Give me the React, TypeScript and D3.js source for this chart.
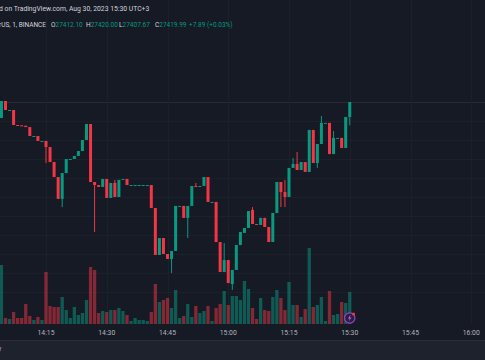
import React from "react";
import * as d3 from "d3";

// 1 minute candles
const times = [
  "14:04","14:05","14:06","14:07","14:08","14:09","14:10","14:11","14:12","14:13","14:14","14:15",
  "14:16","14:17","14:18","14:19","14:20","14:21","14:22","14:23","14:24","14:25","14:26","14:27",
  "14:28","14:29","14:30","14:31","14:32","14:33","14:34","14:35","14:36","14:37","14:38","14:39",
  "14:40","14:41","14:42","14:43","14:44","14:45","14:46","14:47","14:48","14:49","14:50","14:51",
  "14:52","14:53","14:54","14:55","14:56","14:57","14:58","14:59","15:00","15:01","15:02","15:03",
  "15:04","15:05","15:06","15:07","15:08","15:09","15:10","15:11","15:12","15:13","15:14","15:15",
  "15:16","15:17","15:18","15:19","15:20","15:21","15:22","15:23","15:24","15:25","15:26","15:27",
  "15:28","15:29","15:30",
];
const opens = [
  27411.6,27420.5,27415.8,27415.8,27407.9,27407.7,27407.5,27406.8,27402.1,27402.1,27399.5,27399.5,
  27396.3,27388.4,27380.5,27369.0,27382.6,27390.0,27390.0,27391.6,27394.2,27400.0,27408.4,27377.9,
  27376.3,27375.3,27379.5,27369.5,27377.4,27370.0,27379.5,27379.5,27376.3,27376.3,27376.3,27376.3,
  27376.3,27376.3,27364.2,27339.5,27348.4,27340.0,27337.4,27341.6,27365.3,27365.3,27359.0,27365.3,
  27375.8,27375.3,27375.8,27380.5,27367.4,27367.4,27346.3,27330.5,27336.8,27324.2,27331.6,27344.7,
  27351.1,27353.7,27363.2,27355.8,27355.3,27359.0,27354.2,27346.3,27361.6,27377.9,27372.6,27370.0,
  27385.3,27387.4,27384.2,27388.4,27383.2,27405.3,27387.9,27397.9,27409.0,27409.0,27392.6,27401.1,
  27401.1,27395.8,27412.10,
];
const highs = [
  27420.5,27420.5,27415.8,27415.8,27407.9,27407.7,27407.5,27406.8,27402.1,27402.1,27399.5,27399.5,
  27396.3,27388.4,27380.5,27382.6,27390.0,27390.0,27391.6,27394.2,27400.0,27408.4,27408.4,27377.9,
  27376.3,27379.5,27379.5,27377.4,27379.0,27379.0,27379.5,27379.5,27376.3,27376.3,27376.3,27376.3,
  27376.3,27376.3,27364.2,27348.4,27348.4,27340.0,27341.6,27365.3,27365.3,27365.3,27365.3,27375.8,
  27377.4,27375.8,27380.5,27380.5,27367.4,27367.4,27346.3,27345.8,27336.8,27331.6,27344.7,27351.6,
  27353.7,27362.6,27364.7,27355.8,27359.0,27359.0,27354.2,27361.6,27377.9,27377.9,27379.0,27385.3,
  27390.5,27393.7,27388.4,27388.4,27405.3,27405.3,27397.9,27412.6,27409.0,27409.0,27404.7,27401.1,
  27401.1,27412.1,27420.00,
];
const lows = [
  27411.6,27415.8,27415.8,27407.9,27407.7,27407.5,27406.8,27402.1,27402.1,27399.5,27399.5,27387.9,
  27388.4,27380.5,27369.0,27364.7,27382.6,27390.0,27390.0,27391.6,27394.2,27400.0,27377.9,27351.6,
  27375.3,27375.3,27369.5,27369.5,27370.0,27370.0,27379.5,27376.3,27376.3,27376.3,27376.3,27376.3,
  27376.3,27364.2,27339.5,27339.5,27340.0,27337.4,27330.0,27341.6,27365.3,27359.0,27348.4,27365.3,
  27375.3,27375.3,27375.8,27367.4,27367.4,27346.3,27330.5,27330.5,27324.7,27321.1,27331.6,27344.7,
  27351.1,27353.7,27355.8,27355.6,27355.3,27354.2,27346.3,27346.3,27361.6,27364.7,27364.7,27370.0,
  27385.3,27384.2,27384.2,27383.2,27383.2,27387.9,27385.3,27397.9,27409.0,27392.6,27392.6,27401.1,
  27395.8,27395.8,27407.67,
];
const closes = [
  27420.5,27415.8,27415.8,27407.9,27407.7,27407.5,27406.8,27402.1,27402.1,27399.5,27399.5,27396.3,
  27388.4,27380.5,27369.0,27382.6,27390.0,27390.0,27391.6,27394.2,27400.0,27408.4,27377.9,27376.3,
  27375.3,27379.5,27369.5,27377.4,27370.0,27379.0,27379.5,27376.3,27376.3,27376.3,27376.3,27376.3,
  27376.3,27364.2,27339.5,27348.4,27340.0,27337.4,27341.6,27365.3,27365.3,27359.0,27365.3,27375.8,
  27375.3,27375.8,27380.5,27367.4,27367.4,27346.3,27330.5,27336.8,27324.7,27331.6,27344.7,27351.6,
  27353.7,27362.6,27355.8,27355.6,27359.0,27354.2,27346.3,27361.6,27377.9,27372.6,27370.0,27385.3,
  27387.4,27384.2,27388.4,27383.2,27405.3,27387.9,27397.9,27409.0,27409.0,27392.6,27401.1,27401.1,
  27395.8,27412.1,27419.99,
];
const volumes = [
  29.5,3,2.5,6,3,3,10,4,2,3.5,2,26,
  9,8.5,8.5,13.5,7,3,8.5,4.5,5.5,12,28.5,27,
  5.5,6.5,6,7,7,8,6.5,4.5,1.5,3,2,2,
  1.5,6,20,11,12,13,8,17,3,4,10,3.5,
  9,5.5,6.5,9,1.5,8,10,16.5,9.5,14,14,12,
  21.5,17.5,8,2.5,13,7,6.5,13.5,17,13,7,21,
  9.5,9.5,3.5,7.5,38,8.5,9.5,13.5,1.5,16.5,4.5,5,
  11,10.5,16,
];

const timeTicks = ["14:15", "14:30", "14:45", "15:00", "15:15", "15:30", "15:45", "16:00"];
const priceGrid = [27420, 27410, 27400, 27390, 27380, 27370, 27360, 27350, 27340, 27330, 27320];

const W = 485;
const H = 360;
const UP = "#089981";
const DOWN = "#f23645";
const UP_VOL = "rgba(8,153,129,0.5)";
const DOWN_VOL = "rgba(242,54,69,0.5)";
const FONT = "Roboto, 'Noto Sans', sans-serif";

const toDate = (s: string) => {
  const [h, m] = s.split(":").map(Number);
  return new Date(2023, 7, 30, h, m);
};

function App() {
  const x = d3
    .scaleTime()
    .domain([toDate("14:15"), toDate("15:30")])
    .range([46, 349.75]);
  const y = d3.scaleLinear().domain([27320, 27420]).range([292, 102]);
  const v = d3.scaleLinear().domain([0, 38]).range([324, 248]);

  const candles = times.map((t, i) => ({
    t,
    o: opens[i],
    h: highs[i],
    l: lows[i],
    c: closes[i],
    vol: volumes[i],
  }));

  const bodyW = 3;
  const volW = 3.3;

  return (
    <div style={{ position: "absolute", left: 0, top: 0, width: W, height: H }}>
      <svg width={W} height={H} style={{ display: "block" }}>
        <rect x={0} y={0} width={W} height={H} fill="#161a25" />

        {/* grid */}
        {priceGrid.map((p) => (
          <line
            key={p}
            x1={0}
            x2={W}
            y1={Math.round(y(p)) + 0.5}
            y2={Math.round(y(p)) + 0.5}
            stroke={p === 27420 ? "#272b36" : "#1c202b"}
            strokeWidth={1}
          />
        ))}
        {timeTicks.map((t) => (
          <line
            key={t}
            x1={Math.round(x(toDate(t))) + 0.5}
            x2={Math.round(x(toDate(t))) + 0.5}
            y1={0}
            y2={324}
            stroke="#1c202b"
            strokeWidth={1}
          />
        ))}

        {/* volume */}
        {candles.map((d) => {
          const cx = x(toDate(d.t));
          return (
            <rect
              key={"v" + d.t}
              x={cx - volW / 2}
              y={v(d.vol)}
              width={volW}
              height={324 - v(d.vol)}
              fill={d.c >= d.o ? UP_VOL : DOWN_VOL}
            />
          );
        })}

        {/* candles */}
        {candles.map((d) => {
          const cx = x(toDate(d.t));
          const col = d.c >= d.o ? UP : DOWN;
          const top = y(Math.max(d.o, d.c));
          const bh = Math.max(1, Math.abs(y(d.o) - y(d.c)));
          return (
            <g key={"c" + d.t}>
              <line x1={cx} x2={cx} y1={y(d.h)} y2={y(d.l)} stroke={col} strokeWidth={1} />
              <rect x={cx - bodyW / 2} y={top} width={bodyW} height={bh} fill={col} />
            </g>
          );
        })}

        {/* time axis */}
        {timeTicks.map((t) => (
          <text
            key={"l" + t}
            x={x(toDate(t))}
            y={334.5}
            textAnchor="middle"
            fontFamily={FONT}
            fontSize={6.8}
            fill="#b2b5be"
          >
            {t}
          </text>
        ))}

        {/* bottom toolbar strip */}
        <rect x={0} y={340} width={W} height={20} fill="#1e222d" />
        <line x1={0} x2={W} y1={340.5} y2={340.5} stroke="#2a2e39" />
        <text x={-2} y={351} fontFamily={FONT} fontSize={6.8} fill="#b2b5be">
          y
        </text>

        {/* header */}
        <text x={-1} y={10.5} fontFamily={FONT} fontSize={6.8} fill="#d1d4dc">
          d on TradingView.com, Aug 30, 2023 15:30 UTC+3
        </text>
        <text x={46} y={26.5} textAnchor="end" fontFamily={FONT} fontSize={6.5} fill="#d1d4dc">
          Bitcoin / TetherUS, 1, BINANCE
        </text>
        {[
          { k: "O", val: "27412.10", at: 51 },
          { k: "H", val: "27420.00", at: 86 },
          { k: "L", val: "27407.67", at: 119 },
          { k: "C", val: "27419.99", at: 155 },
        ].map((o) => (
          <text key={o.k} x={o.at} y={26.5} fontFamily={FONT} fontSize={6.5} fill="#d1d4dc">
            {o.k}
            <tspan fill={UP}>{o.val}</tspan>
          </text>
        ))}
        <text x={189} y={26.5} fontFamily={FONT} fontSize={6.5} fill={UP}>
          +7.89 (+0.03%)
        </text>

        {/* event marker */}
        <g transform={`translate(${x(toDate("15:30"))},318)`}>
          <circle r={5.2} fill="#2a1f3d" stroke="#9c3fd6" strokeWidth={1.2} />
          <path d="M0.8,-3.2 L-1.8,0.4 L-0.2,0.4 L-0.9,3.2 L1.8,-0.6 L0.2,-0.6 Z" fill="#b45ce8" />
          <circle cx={3.8} cy={-4} r={1.5} fill="#f23645" />
        </g>
      </svg>
    </div>
  );
}

export default App;
